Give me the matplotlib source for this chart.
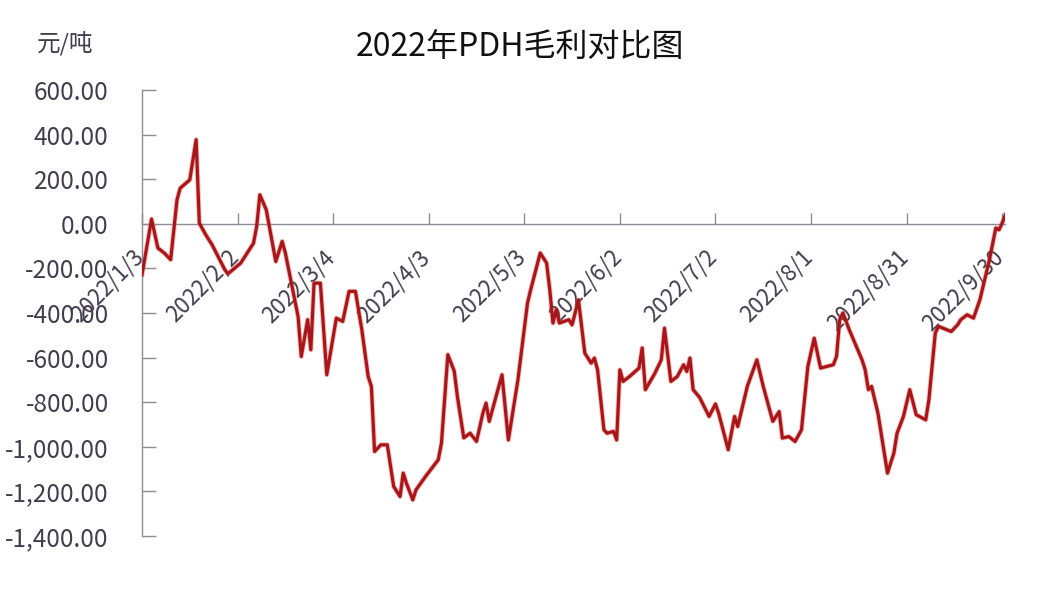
import datetime as dt

import matplotlib
matplotlib.use("Agg")
import matplotlib.pyplot as plt
from matplotlib.ticker import FuncFormatter
from matplotlib.transforms import ScaledTranslation

plt.rcParams["font.family"] = ["Noto Sans CJK SC", "DejaVu Sans"]

START = dt.date(2022, 1, 3)

# days since 2022/1/3 and PDH gross margin (yuan/ton)
days = [0, 3, 5, 7, 9, 11, 12, 15, 17, 18, 20, 22, 26, 27, 31, 35, 36, 37, 39,
        42, 44, 45, 49, 50, 52, 53, 54, 56, 58, 61, 63, 65, 67, 69, 71, 72, 73,
        75, 77, 79, 81, 82, 83, 85, 86, 89, 93, 94, 96, 98, 99, 101, 103, 105,
        107, 108, 109, 113, 115, 118, 121, 122, 125, 127, 128, 129, 130, 131,
        134, 135, 137, 139, 141, 142, 143, 145, 146, 148, 149, 150, 151, 153,
        156, 157, 158, 161, 163, 164, 166, 168, 170, 171, 172, 173, 175, 178,
        180, 181, 184, 186, 187, 190, 193, 195, 198, 200, 201, 203, 205, 207,
        209, 211, 213, 217, 218, 219, 220, 222, 226, 227, 228, 229, 231, 234,
        236, 237, 239, 241, 243, 246, 247, 249, 250, 254, 256, 257, 259, 261,
        263, 266, 268, 269, 270, 271]
margin = [-229, 21, -109, -131, -161, 108, 160, 197, 377, 3, -49, -94, -206,
          -224, -176, -87, -12, 130, 63, -169, -79, -131, -416, -595, -430,
          -565, -266, -266, -677, -423, -438, -303, -303, -475, -685, -729,
          -1021, -991, -991, -1178, -1223, -1118, -1163, -1238, -1193, -1133,
          -1058, -983, -587, -660, -774, -960, -939, -976, -849, -804, -886,
          -677, -969, -700, -356, -296, -131, -176, -296, -445, -386, -445,
          -430, -453, -341, -580, -625, -602, -655, -924, -939, -931, -969,
          -655, -707, -685, -647, -557, -744, -670, -610, -468, -707, -685,
          -632, -662, -602, -744, -778, -864, -808, -849, -1013, -864, -909,
          -729, -610, -729, -886, -842, -961, -954, -976, -924, -640, -513,
          -647, -632, -595, -430, -400, -475, -610, -655, -744, -729, -849,
          -1118, -1028, -939, -864, -744, -856, -879, -789, -490, -460, -483,
          -453, -430, -408, -423, -341, -161, -19, -27, 3, 40]

tick_days = [0, 30, 60, 90, 120, 150, 180, 210, 240, 270]
y_ticks = list(range(-1400, 601, 200))

INK = "#433c4c"
AXIS = "#8e8c98"
LINE = "#a8161b"

fig = plt.figure(figsize=(10.44, 5.90), dpi=100)
ax = fig.add_axes([0.136, 0.0915, 0.827, 0.756])

ax.plot(days, margin, color="#e0402c", lw=3.6, alpha=0.35,
        solid_joinstyle="round", zorder=2)
ax.plot(days, margin, color=LINE, lw=2.3, solid_joinstyle="round", zorder=3)

ax.set_xlim(0, 271)
ax.set_ylim(-1400, 600)

for s in ("top", "right"):
    ax.spines[s].set_visible(False)
ax.spines["left"].set_color(AXIS)
ax.spines["left"].set_linewidth(1.0)
ax.spines["bottom"].set_position(("data", 0))
ax.spines["bottom"].set_color(AXIS)
ax.spines["bottom"].set_linewidth(1.0)

ax.set_yticks(y_ticks)
ax.yaxis.set_major_formatter(FuncFormatter(lambda v, p: f"{v:,.2f}"))
ax.tick_params(axis="y", direction="in", length=10, width=1.0, color=AXIS,
               labelsize=17.5, labelcolor=INK, pad=24)

ax.set_xticks(tick_days)
ax.set_xticklabels([
    f"{d.year}/{d.month}/{d.day}"
    for d in (START + dt.timedelta(days=t) for t in tick_days)
])
ax.tick_params(axis="x", direction="in", length=8, width=1.0, color=AXIS,
               labelsize=16, labelcolor=INK, pad=0)
shift = ScaledTranslation(-2 / 100, -30 / 100, fig.dpi_scale_trans)
for lab in ax.get_xticklabels():
    lab.set_rotation(45)
    lab.set_rotation_mode("anchor")
    lab.set_ha("right")
    lab.set_va("center")
    lab.set_transform(lab.get_transform() + shift)

fig.text(0.498, 0.918, "2022年PDH毛利对比图", fontsize=23, color="#111111",
         ha="center", va="center")
fig.text(0.035, 0.927, "元/吨", fontsize=17, color=INK, ha="left",
         va="center")

fig.savefig("out.png", dpi=100)
